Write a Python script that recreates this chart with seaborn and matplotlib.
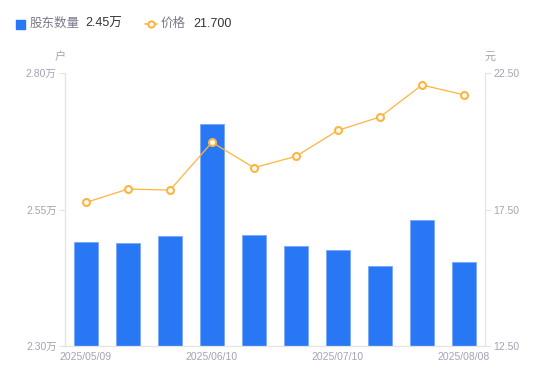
import numpy as np
import pandas as pd
import seaborn as sns
from matplotlib import pyplot as plt
from matplotlib.lines import Line2D
from matplotlib.patches import Rectangle

dates = ['2025/05/09', '2025/05/20', '2025/05/30', '2025/06/10', '2025/06/20',
         '2025/06/30', '2025/07/10', '2025/07/20', '2025/07/31', '2025/08/08']
holders = [2.490, 2.489, 2.502, 2.706, 2.503, 2.483, 2.475, 2.447, 2.530, 2.453]  # 万户
prices = [17.76, 18.25, 18.21, 19.96, 19.03, 19.45, 20.40, 20.89, 22.06, 21.70]
left_ticks = [2.30, 2.55, 2.80]
right_ticks = [12.50, 17.50, 22.50]

sns.set_style('white')
plt.rcParams['font.family'] = ['Liberation Sans', 'Noto Sans CJK SC', 'DejaVu Sans']

BLUE = '#2878f5'
ORANGE = '#ffb43d'
GREY = '#a3a3b5'
LINE = '#e3e3e8'

df = pd.DataFrame({'date': dates, 'holders': holders, 'price': prices})

fig = plt.figure(figsize=(5.5, 3.81), dpi=100)
ax = fig.add_axes([65 / 550, 35 / 381, 420 / 550, 273 / 381])
sns.barplot(data=df, x='date', y='holders', color=BLUE, width=0.57,
            saturation=1, edgecolor='#7aa9f7', linewidth=0.6, ax=ax)
ax.set_ylim(left_ticks[0], left_ticks[-1])
ax.set_xlim(-0.5, len(dates) - 0.5)
ax.set_yticks(left_ticks)
ax.set_yticklabels([f'{v:.2f}万' for v in left_ticks])
ax.set_xticks(range(0, len(dates), 3))
ax.set_xticklabels([dates[i] for i in range(0, len(dates), 3)])
ax.set(xlabel=None, ylabel=None)
ax.tick_params(axis='y', length=4, width=0.8, color=LINE, labelsize=7.5,
               labelcolor=GREY, pad=2)
ax.tick_params(axis='x', length=0, labelsize=7.5, labelcolor=GREY, pad=4)
for s in ['top', 'right']:
    ax.spines[s].set_visible(False)
for s in ['left', 'bottom']:
    ax.spines[s].set_color(LINE)
    ax.spines[s].set_linewidth(0.9)

ax2 = ax.twinx()
sns.lineplot(x=np.arange(len(prices)), y=prices, color=ORANGE, linewidth=0.9,
             marker='o', markersize=5, markerfacecolor='white',
             markeredgecolor=ORANGE, markeredgewidth=1.5, ax=ax2)
ax2.set_ylim(right_ticks[0], right_ticks[-1])
ax2.set_yticks(right_ticks)
ax2.set_yticklabels([f'{v:.2f}' for v in right_ticks])
ax2.tick_params(axis='y', length=4, width=0.8, color=LINE, labelsize=7.5,
                labelcolor=GREY, pad=2)
for s in ['top', 'left', 'bottom']:
    ax2.spines[s].set_visible(False)
ax2.spines['right'].set_color(LINE)
ax2.spines['right'].set_linewidth(0.9)

# units
fig.text(60 / 550, 1 - 57 / 381, '户', color=GREY, fontsize=8, ha='center', va='center')
fig.text(490 / 550, 1 - 57 / 381, '元', color=GREY, fontsize=8, ha='center', va='center')

# legend header
fig.patches.append(Rectangle((16 / 550, 1 - 29 / 381), 9 / 550, 9 / 381,
                             transform=fig.transFigure, color=BLUE))
fig.text(30 / 550, 1 - 24 / 381, '股东数量', color='#7a7a8a', fontsize=9, va='center')
fig.text(85 / 550, 1 - 24 / 381, '2.45万', color='#333333', fontsize=9, va='center')
fig.lines.append(Line2D([145 / 550, 157 / 550], [1 - 24 / 381] * 2, transform=fig.transFigure,
                        color=ORANGE, linewidth=1.2))
fig.lines.append(Line2D([151 / 550], [1 - 24 / 381], transform=fig.transFigure,
                        color=ORANGE, marker='o', markersize=4.5, markerfacecolor='white',
                        markeredgewidth=1.5))
fig.text(161 / 550, 1 - 24 / 381, '价格', color='#7a7a8a', fontsize=9, va='center')
fig.text(193 / 550, 1 - 24 / 381, '21.700', color='#333333', fontsize=9, va='center')

fig.savefig('out.png', dpi=100)
